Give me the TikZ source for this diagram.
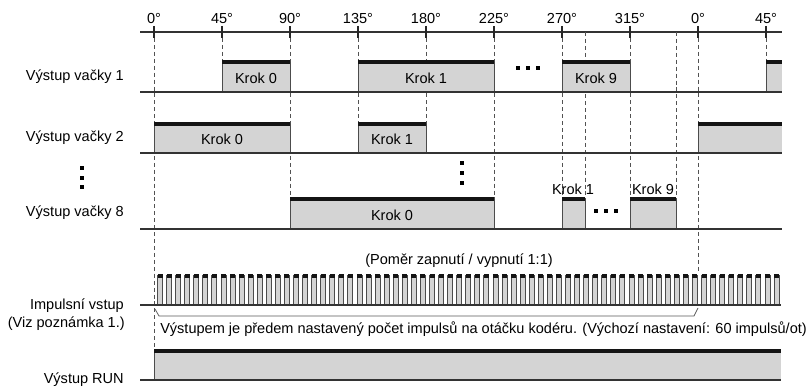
\documentclass[tikz,border=0pt]{standalone}
\usepackage{fontspec}
\setmainfont{Liberation Sans}
\begin{document}
\begin{tikzpicture}[x=0.75pt,y=-0.75pt,
  font=\fontsize{10.9}{13}\selectfont,
  base/.style={draw=black!80, line width=0.9pt},
  topline/.style={draw=black!92, line width=2.3pt},
  side/.style={draw=black!70, line width=0.7pt},
  guide/.style={draw=black!68, line width=0.75pt, dash pattern=on 3pt off 2.2pt},
  tick/.style={draw=black!85, line width=0.9pt},
  boxfill/.style={fill=black!17},
  sqdot/.style={rectangle, fill=black, inner sep=0pt, minimum size=2.4pt},
  lbl/.style={anchor=east, inner sep=0pt},
  ang/.style={anchor=south, inner sep=1pt},
  brace/.style={draw=black!65, line width=0.6pt}]
\useasboundingbox (0,0) rectangle (808,391);

% ---- angle axis ----
\draw[base] (140,32) -- (782,32);
\foreach \xx/\tt [count=\i] in {154/0°,222/45°,290/90°,358/135°,426/180°,494/225°,562/270°,630/315°,698/0°,766/45°}{
  \draw[tick] (\xx,26) -- (\xx,38);
  \node[ang] (a\i) at (\xx,25) {\tt};
}

% ---- guide lines ----
\draw[guide] (154,38) -- (154,347);
\draw[guide] (222,38) -- (222,62);
\draw[guide] (290,38) -- (290,199);
\draw[guide] (358,38) -- (358,124);
\draw[guide] (426,38) -- (426,124);
\draw[guide] (494,38) -- (494,199);
\draw[guide] (562,38) -- (562,199);
\draw[guide] (585,32) -- (585,199);
\draw[guide] (630,38) -- (630,199);
\draw[guide] (676,32) -- (676,199);
\draw[guide] (698,38) -- (698,273);
\draw[guide] (766,38) -- (766,62);

% ---- generic pulse box macro ----
\newcommand{\tbox}[4]{% x1, x2, top, bottom
  \fill[boxfill] (#1,#3) rectangle (#2,#4);
  \draw[side] (#1,#4) -- (#1,#3);
  \draw[side] (#2,#3) -- (#2,#4);
  \draw[topline] (#1,#3) -- (#2,#3);}
\newcommand{\obox}[4]{% open right end
  \fill[boxfill] (#1,#3) rectangle (#2,#4);
  \draw[side] (#1,#4) -- (#1,#3);
  \draw[topline] (#1,#3) -- (#2,#3);}

% ---- row 1 ----
\tbox{222}{290}{62}{92}
\tbox{358}{494}{62}{92}
\tbox{562}{630}{62}{92}
\obox{766}{782}{62}{92}
\draw[base] (140,92) -- (782,92);
\node (r1k0) at (256,78) {Krok 0};
\node (r1k1) at (426,78) {Krok 1};
\node (r1k9) at (596,78) {Krok 9};
\node[sqdot] (d1a) at (518,68) {};
\node[sqdot] (d1b) at (528,68) {};
\node[sqdot] (d1c) at (538,68) {};

% ---- row 2 ----
\tbox{154}{290}{124}{153}
\tbox{358}{426}{124}{153}
\obox{698}{782}{124}{153}
\draw[base] (140,153) -- (782,153);
\node (r2k0) at (222,139) {Krok 0};
\node (r2k1) at (392,139) {Krok 1};

% ---- vertical dots ----
\node[sqdot] (v1a) at (82,168) {};
\node[sqdot] (v1b) at (82,178) {};
\node[sqdot] (v1c) at (82,187) {};
\node[sqdot] (v2a) at (462,163) {};
\node[sqdot] (v2b) at (462,173) {};
\node[sqdot] (v2c) at (462,183) {};

% ---- row 8 ----
\tbox{290}{494}{199}{229}
\tbox{562}{585}{199}{229}
\tbox{630}{676}{199}{229}
\draw[base] (140,229) -- (782,229);
\node (r8k0) at (392,215) {Krok 0};
\node (r8k1) at (573,189) {Krok 1};
\node (r8k9) at (653,189) {Krok 9};
\node[sqdot] (d8a) at (596,211) {};
\node[sqdot] (d8b) at (606,211) {};
\node[sqdot] (d8c) at (616,211) {};

% ---- pulses ----
\node (ratio) at (459,261) {(Poměr zapnutí / vypnutí 1:1)};
\foreach \k in {0,...,68}{
  \pgfmathsetmacro{\xa}{157.5+9.0667*\k}
  \pgfmathsetmacro{\xb}{\xa+5}
  \fill[boxfill] (\xa,275) rectangle (\xb,305);
  \draw[side] (\xa,305) -- (\xa,275) -- (\xb,275) -- (\xb,305);
  \draw[draw=black!92, line width=2.6pt] (\xa,276) -- (\xb,276);
}
\draw[base] (140,305) -- (781,305);
\draw[brace] (155,309) -- (159,316) -- (694,316) -- (698,308);
\node[anchor=west, inner sep=0pt] (note) at (160,329) {Výstupem je předem nastavený počet impulsů na otáčku kodéru. (Výchozí nastavení: 60 impulsů/ot)};

% ---- RUN ----
\fill[boxfill] (154,351) rectangle (781,380);
\draw[side] (154,380) -- (154,351);
\draw[topline] (154,351) -- (781,351);
\draw[base] (140,380) -- (781,380);

% ---- left labels ----
\node[lbl] (l1) at (124,77) {Výstup vačky 1};
\node[lbl] (l2) at (124,138) {Výstup vačky 2};
\node[lbl] (l8) at (124,213) {Výstup vačky 8};
\node[lbl] (li) at (124,306) {Impulsní vstup};
\node[lbl] (lv) at (125,324) {(Viz poznámka 1.)};
\node[lbl] (lr) at (124,380) {Výstup RUN};
\end{tikzpicture}
\end{document}
